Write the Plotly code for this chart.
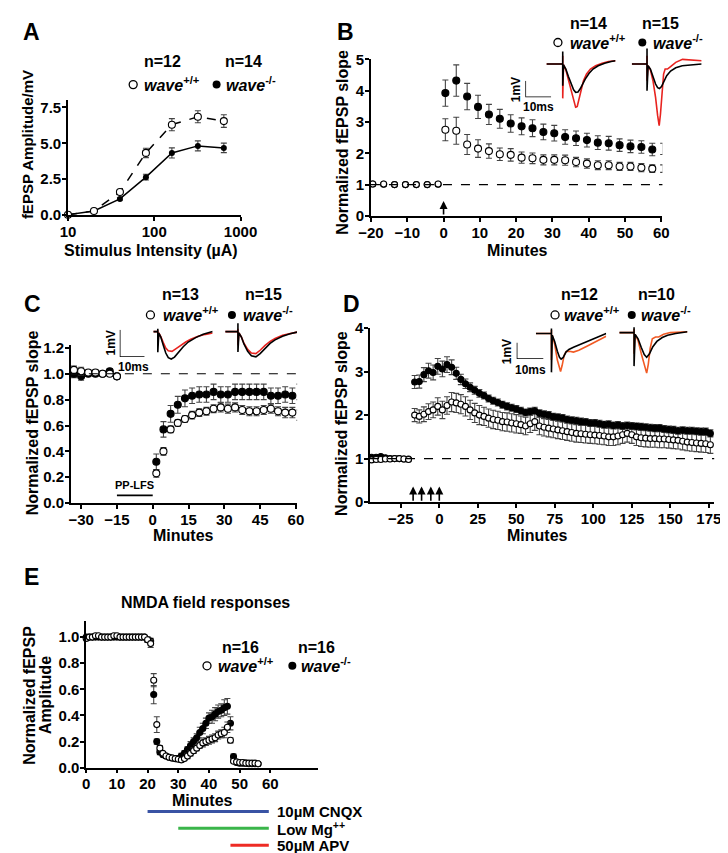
import plotly.graph_objects as go

W, H = 728, 853
FONT = "Liberation Sans, Arial, Helvetica, sans-serif"
ERR = "#444444"
RED_BC = "#e8231f"
RED_D = "#f15a24"

# ---------------- Panel A data ----------------
a_stim = [10, 20, 40, 80, 160, 320, 640]
a_wt = [0.02, 0.28, 1.6, 4.33, 6.3, 6.85, 6.55]
a_wt_err = [0.0, 0.05, 0.1, 0.33, 0.42, 0.42, 0.44]
a_ko = [0.02, 0.28, 1.12, 2.64, 4.33, 4.82, 4.68]
a_ko_err = [0.0, 0.05, 0.08, 0.2, 0.35, 0.35, 0.33]

# ---------------- Panel B data ----------------
b_base_min = [-19.5, -16.5, -13.5, -10.5, -7.5, -4.5, -1.5]
b_wt_base = [1.02, 1.02, 1.0, 1.0, 1.0, 1.0, 1.02]
b_ko_base = [1.02, 1.01, 1.0, 1.0, 1.0, 1.0, 1.01]
b_base_err = [0.02, 0.02, 0.02, 0.02, 0.02, 0.02, 0.02]
b_post_min = [0.5, 3.5, 6.5, 9.5, 12.5, 15.5, 18.5, 21.5, 24.5, 27.5, 30.5,
              33.5, 36.5, 39.5, 42.5, 45.5, 48.5, 51.5, 54.5, 57.5, 60.5]
b_wt_post = [2.75, 2.72, 2.28, 2.15, 2.07, 1.97, 1.95, 1.86, 1.84, 1.79, 1.79,
             1.78, 1.72, 1.67, 1.62, 1.62, 1.58, 1.58, 1.54, 1.51, 1.51]
b_wt_err = [0.35, 0.43, 0.32, 0.28, 0.23, 0.2, 0.2, 0.18, 0.17, 0.16, 0.16,
            0.16, 0.15, 0.15, 0.14, 0.14, 0.13, 0.13, 0.13, 0.12, 0.12]
b_ko_post = [3.92, 4.32, 3.81, 3.48, 3.24, 3.1, 2.95, 2.86, 2.8, 2.68, 2.64,
             2.52, 2.48, 2.42, 2.34, 2.32, 2.26, 2.22, 2.2, 2.12, 2.14]
b_ko_err = [0.42, 0.5, 0.42, 0.37, 0.32, 0.3, 0.28, 0.27, 0.27, 0.25, 0.25,
            0.23, 0.23, 0.22, 0.22, 0.22, 0.2, 0.2, 0.2, 0.2, 0.18]
b_tetanus = [0]

# ---------------- Panel C data ----------------
c_base_min = [-33, -30, -27, -24, -21, -18, -15]
c_wt_base = [1.03, 1.02, 1.01, 1.01, 1.0, 1.0, 0.98]
c_ko_base = [1.0, 0.98, 1.0, 1.0, 1.0, 1.02, 0.98]
c_base_err = [0.03, 0.03, 0.02, 0.02, 0.02, 0.02, 0.02]
c_post_min = [1.5, 4.5, 7.5, 10.5, 13.5, 16.5, 19.5, 22.5, 25.5, 28.5, 31.5,
              34.5, 37.5, 40.5, 43.5, 46.5, 49.5, 52.5, 55.5, 58.5, 61.5]
c_wt_post = [0.23, 0.40, 0.57, 0.62, 0.65, 0.68, 0.70, 0.71, 0.73, 0.74, 0.73,
             0.74, 0.72, 0.71, 0.71, 0.72, 0.73, 0.71, 0.70, 0.70, 0.68]
c_wt_err = [0.03, 0.03, 0.025, 0.025, 0.025, 0.03, 0.03, 0.03, 0.03, 0.035, 0.035,
            0.035, 0.035, 0.035, 0.035, 0.035, 0.035, 0.035, 0.04, 0.04, 0.04]
c_ko_post = [0.32, 0.57, 0.69, 0.76, 0.81, 0.83, 0.84, 0.84, 0.86, 0.84, 0.84,
             0.86, 0.86, 0.86, 0.86, 0.86, 0.83, 0.83, 0.84, 0.83, 0.86]
c_ko_err = [0.06, 0.06, 0.065, 0.065, 0.065, 0.06, 0.06, 0.06, 0.06, 0.06, 0.06,
            0.06, 0.06, 0.06, 0.06, 0.06, 0.06, 0.06, 0.06, 0.06, 0.06]
c_lfs_start, c_lfs_end, c_lfs_level = -15, 0, 0.06

# ---------------- Panel D data ----------------
d_base_min = [-44, -41, -38, -35, -32, -29, -26, -23, -20]
d_wt_base = [0.97, 0.98, 0.98, 0.99, 0.99, 1.0, 1.0, 0.99, 0.98]
d_ko_base = [1.03, 1.03, 1.05, 1.02, 1.0, 1.0, 1.0, 0.99, 0.99]
d_base_err = [0.03, 0.03, 0.03, 0.03, 0.03, 0.03, 0.03, 0.03, 0.03]
d_post_min = [-16, -13, -10, -7, -4, -1, 2, 5, 8, 11, 14, 17, 20, 23, 26, 29,
              32, 35, 38, 41, 44, 47, 50, 53, 56, 59, 62, 65, 68, 71, 74, 77,
              80, 83, 86, 89, 92, 95, 98, 101, 104, 107, 110, 113, 116, 119,
              122, 125, 128, 131, 134, 137, 140, 143, 146, 149, 152, 155, 158,
              161, 164, 167, 170, 173, 176]
d_ko_post = [2.76, 2.77, 2.93, 3.02, 2.98, 3.12, 3.06, 3.16, 3.1, 2.96, 2.82,
             2.72, 2.64, 2.57, 2.5, 2.45, 2.38, 2.33, 2.29, 2.24, 2.2, 2.17,
             2.14, 2.1, 2.06, 2.08, 2.1, 2.04, 2.02, 2.0, 1.96, 1.95, 1.93,
             1.9, 1.88, 1.87, 1.85, 1.84, 1.82, 1.82, 1.8, 1.78, 1.79, 1.76,
             1.77, 1.75, 1.76, 1.75, 1.74, 1.73, 1.72, 1.71, 1.7, 1.7, 1.68,
             1.67, 1.66, 1.64, 1.65, 1.64, 1.64, 1.63, 1.62, 1.62, 1.58]
d_ko_err = [0.15, 0.15, 0.16, 0.17, 0.17, 0.18, 0.18, 0.18, 0.17, 0.14, 0.12,
            0.11, 0.1, 0.09, 0.09, 0.08, 0.08, 0.08, 0.08, 0.08, 0.08, 0.08,
            0.08, 0.08, 0.08, 0.08, 0.08, 0.08, 0.08, 0.08, 0.08, 0.08, 0.08,
            0.08, 0.08, 0.08, 0.08, 0.08, 0.08, 0.08, 0.08, 0.08, 0.08, 0.08,
            0.08, 0.08, 0.08, 0.08, 0.08, 0.08, 0.08, 0.08, 0.08, 0.08, 0.08,
            0.08, 0.08, 0.08, 0.08, 0.08, 0.08, 0.08, 0.08, 0.08, 0.08]
d_wt_post = [2.0, 1.97, 2.02, 2.08, 2.12, 2.2, 2.12, 2.22, 2.3, 2.28, 2.25,
             2.2, 2.12, 2.05, 2.0, 1.97, 1.93, 1.9, 1.88, 1.85, 1.84, 1.82,
             1.8, 1.78, 1.75, 1.8, 1.85, 1.75, 1.72, 1.7, 1.68, 1.66, 1.64,
             1.62, 1.6, 1.58, 1.57, 1.56, 1.55, 1.54, 1.53, 1.52, 1.5, 1.5,
             1.52, 1.55, 1.58, 1.55, 1.5, 1.48, 1.47, 1.46, 1.46, 1.45, 1.45,
             1.44, 1.43, 1.42, 1.4, 1.38, 1.37, 1.36, 1.35, 1.34, 1.32]
d_wt_err = [0.15, 0.15, 0.17, 0.18, 0.18, 0.2, 0.2, 0.2, 0.22, 0.22, 0.22,
            0.22, 0.22, 0.22, 0.22, 0.21, 0.21, 0.21, 0.21, 0.21, 0.21, 0.21,
            0.21, 0.2, 0.2, 0.2, 0.2, 0.2, 0.2, 0.2, 0.2, 0.2, 0.2,
            0.2, 0.2, 0.2, 0.2, 0.2, 0.2, 0.2, 0.2, 0.2, 0.2, 0.2,
            0.2, 0.2, 0.2, 0.2, 0.2, 0.2, 0.2, 0.2, 0.2, 0.2, 0.2,
            0.2, 0.2, 0.2, 0.2, 0.2, 0.2, 0.2, 0.2, 0.2, 0.2]
d_tetanus = [-17, -11.5, -5.5, 0]

# ---------------- Panel E data ----------------
e_min = [0, 1, 2, 3, 4, 5, 6, 7, 8, 9, 10, 11, 12, 13, 14, 15, 16, 17, 18, 19,
         20, 21, 22, 23, 24, 25, 26, 27, 28, 29, 30, 31, 32, 33, 34, 35, 36, 37,
         38, 39, 40, 41, 42, 43, 44, 45, 46, 47, 48, 49, 50, 51, 52, 53, 54, 55, 56]
e_wt = [0.99, 1.0, 1.0, 1.01, 1.01, 1.0, 1.0, 1.0, 1.0, 1.01, 1.01, 1.0, 1.0,
        1.0, 1.0, 1.0, 1.0, 1.0, 1.0, 1.0, 0.98, 0.95, 0.67, 0.33, 0.15, 0.11,
        0.09, 0.08, 0.075, 0.07, 0.065, 0.06, 0.07, 0.09, 0.11, 0.13, 0.15, 0.17,
        0.19, 0.2, 0.21, 0.22, 0.23, 0.25, 0.26, 0.27, 0.31, 0.21, 0.05, 0.045,
        0.04, 0.04, 0.035, 0.035, 0.035, 0.035, 0.03]
e_wt_err = [0.01, 0.01, 0.01, 0.01, 0.01, 0.01, 0.01, 0.01, 0.01, 0.01, 0.01,
            0.01, 0.01, 0.01, 0.01, 0.01, 0.01, 0.01, 0.01, 0.01, 0.02, 0.03,
            0.05, 0.06, 0.02, 0.01, 0.01, 0.01, 0.01, 0.01, 0.01, 0.01, 0.01,
            0.02, 0.02, 0.02, 0.02, 0.02, 0.03, 0.03, 0.03, 0.03, 0.03, 0.03,
            0.03, 0.04, 0.04, 0.02, 0.01, 0.01, 0.01, 0.01, 0.01, 0.01, 0.01,
            0.01, 0.01]
e_ko = [1.0, 1.0, 1.0, 1.0, 1.0, 1.0, 1.0, 1.0, 1.0, 1.0, 1.0, 1.0, 1.0, 1.0,
        1.0, 1.0, 1.0, 1.0, 1.0, 1.0, 0.98, 0.97, 0.56, 0.2, 0.12, 0.1, 0.09,
        0.08, 0.075, 0.07, 0.07, 0.09, 0.11, 0.14, 0.17, 0.2, 0.23, 0.27, 0.3,
        0.34, 0.38, 0.39, 0.41, 0.43, 0.44, 0.46, 0.47, 0.34, 0.085, 0.04,
        0.035, 0.035, 0.035, 0.03, 0.03, 0.03, 0.03]
e_ko_err = [0.01, 0.01, 0.01, 0.01, 0.01, 0.01, 0.01, 0.01, 0.01, 0.01, 0.01,
            0.01, 0.01, 0.01, 0.01, 0.01, 0.01, 0.01, 0.01, 0.01, 0.02, 0.02,
            0.07, 0.02, 0.02, 0.01, 0.01, 0.01, 0.01, 0.01, 0.01, 0.02, 0.02,
            0.02, 0.03, 0.03, 0.03, 0.04, 0.04, 0.04, 0.04, 0.05, 0.05, 0.05,
            0.05, 0.06, 0.06, 0.05, 0.02, 0.01, 0.01, 0.01, 0.01, 0.01, 0.01,
            0.01, 0.01]
e_drugs = ["10µM CNQX", "Low Mg<sup>++</sup>", "50µM APV"]
e_drug_start = [20, 30, 47]
e_drug_end = [59.5, 59.5, 59.5]
e_drug_colors = ["#3953a4", "#3ab54a", "#ee2b24"]

# ---------------- Inset example traces (ms, mV) ----------------
b_wt_black = ([0, 6.3, 6.3, 6.3, 6.6, 7.5, 8.5, 9.5, 10.5, 11.3, 12.2, 13, 14, 15, 16.5, 18, 20, 22.5, 25, 26.7],
              [0, 0, 0.75, -1.3, -0.05, -0.3, -0.75, -1.2, -1.55, -1.7, -1.68, -1.5, -1.2, -0.9, -0.55, -0.3, -0.1, 0.05, 0.15, 0.2])
b_wt_red = ([0, 6.3, 6.3, 6.3, 6.6, 7.5, 8.5, 9.5, 10.5, 11.3, 11.9, 12.6, 13.4, 14.3, 15.5, 17, 19, 21.5, 24, 26.7],
            [0, 0, 0.5, -2.06, -0.05, -0.35, -0.95, -1.6, -2.25, -2.6, -2.55, -2.1, -1.5, -1.0, -0.6, -0.3, -0.1, 0.05, 0.15, 0.2])
b_ko_black = ([0, 5.9, 5.9, 5.9, 6.3, 7.2, 8.2, 9.2, 10, 10.7, 11.5, 12.5, 13.5, 15, 17, 19.5, 23, 27],
              [0, 0, 0.94, -1.6, -0.1, -0.3, -0.75, -1.2, -1.42, -1.47, -1.35, -1.0, -0.7, -0.42, -0.22, -0.1, -0.04, 0.0])
b_ko_red = ([0, 5.9, 5.9, 5.9, 6.3, 7.2, 8.2, 9.2, 10, 10.6, 11.1, 11.7, 12.3, 12.9, 13.8, 15, 17, 19.6, 23, 27],
            [0, 0, 0.5, -1.0, -0.1, -0.35, -1.0, -2.0, -3.1, -3.7, -3.0, -1.6, -0.6, -0.3, -0.3, -0.15, 0.1, 0.28, 0.25, 0.2])
c_wt_black = ([0, 1.8, 1.8, 1.8, 2.2, 3, 4, 5, 6, 7.2, 8.5, 10, 12, 14, 17, 20, 23.8],
              [0, 0, 0.1, -0.75, -0.05, -0.2, -0.5, -0.78, -0.95, -1.0, -0.93, -0.75, -0.55, -0.38, -0.22, -0.1, 0.0])
c_wt_red = ([0, 1.8, 1.8, 1.8, 2.2, 3, 4, 5, 6, 7.5, 9, 11, 13, 15, 18, 21, 23.8],
            [0, 0, 0.05, -0.5, -0.05, -0.18, -0.4, -0.6, -0.7, -0.72, -0.63, -0.5, -0.38, -0.28, -0.17, -0.1, -0.05])
c_ko_black = ([0, 5.1, 5.1, 5.1, 5.5, 6.5, 7.5, 9, 10.5, 12.3, 14, 16, 18, 20, 23, 26, 28.8],
              [0, 0, 0.3, -0.74, -0.05, -0.2, -0.45, -0.72, -0.88, -0.92, -0.8, -0.6, -0.43, -0.3, -0.17, -0.08, -0.02])
c_ko_red = ([0, 5.1, 5.1, 5.1, 5.5, 6.5, 7.5, 9, 10.5, 12.3, 14, 16, 18, 20, 23, 26, 28.8],
            [0, 0, 0.1, -0.5, -0.05, -0.2, -0.42, -0.65, -0.78, -0.8, -0.68, -0.5, -0.36, -0.25, -0.13, -0.06, -0.02])
d_wt_black = ([0, 5.8, 5.8, 5.8, 6.1, 7.0, 8.0, 8.8, 9.4, 10.2, 11.2, 12.3, 14, 16, 18.5, 21, 23.5, 26.2],
              [0, 0, 0.28, -2.2, -0.1, -0.45, -1.0, -1.35, -1.45, -1.35, -1.05, -0.9, -0.78, -0.65, -0.48, -0.32, -0.15, 0.0])
d_wt_red = ([0, 5.8, 5.8, 5.8, 6.1, 7.0, 8.0, 8.8, 9.2, 9.8, 10.5, 11.3, 12.5, 14, 16, 19, 22.5, 26.2],
            [0, 0, 0.2, -1.5, -0.1, -0.6, -1.5, -2.0, -2.15, -1.8, -1.25, -1.02, -1.0, -1.05, -0.95, -0.72, -0.42, -0.15])
d_ko_black = ([0, 5.5, 5.5, 5.5, 5.9, 7, 8.2, 9.3, 10.2, 11.2, 12.5, 14, 16, 18, 21, 25.4],
              [0, 0, 0.3, -1.9, -0.1, -0.35, -0.85, -1.25, -1.4, -1.22, -0.8, -0.5, -0.28, -0.15, -0.05, 0.05])
d_ko_red = ([0, 5.5, 5.5, 5.5, 5.9, 7, 8.2, 9.3, 10.2, 10.8, 11.5, 12.3, 13.5, 14.7, 16.5, 19, 25.4],
            [0, 0, 0.2, -1.2, -0.1, -0.45, -1.2, -1.9, -2.3, -1.8, -0.9, -0.35, -0.25, -0.25, -0.1, 0.0, 0.05])
scale_ms, scale_mv = 10, 1

# ======================================================================
fig = go.Figure()
layout = dict(width=W, height=H, margin=dict(l=0, r=0, t=0, b=0),
              paper_bgcolor="white", plot_bgcolor="rgba(0,0,0,0)",
              showlegend=False, font=dict(family=FONT, color="black"))
annotations, shapes = [], []
count = [0]
key_open, key_filled = ([], []), ([], [])


def fx(px):
    return px / W


def fy(py):
    return 1 - py / H


def new_axes(xpx, ypx, xopts, yopts):
    count[0] += 1
    s = "" if count[0] == 1 else str(count[0])
    xa = dict(domain=[fx(xpx[0]), fx(xpx[1])], anchor="y" + s)
    ya = dict(domain=[fy(ypx[1]), fy(ypx[0])], anchor="x" + s)
    xa.update(xopts)
    ya.update(yopts)
    layout["xaxis" + s] = xa
    layout["yaxis" + s] = ya
    return "x" + s, "y" + s


def main_axis(**kw):
    d = dict(showline=True, linecolor="black", linewidth=1.5, ticks="outside",
             ticklen=4, tickwidth=1.5, tickcolor="black", showgrid=False,
             zeroline=False, fixedrange=True, ticklabelstandoff=-2,
             tickfont=dict(family=FONT, size=15, color="black", weight="bold"))
    d.update(kw)
    return d


HID = dict(visible=False, fixedrange=True)


def text(px, py, s, size=16, xanchor="center", yanchor="middle", angle=0):
    annotations.append(dict(x=fx(px), y=fy(py), xref="paper", yref="paper",
                            text=s, showarrow=False, xanchor=xanchor,
                            yanchor=yanchor, textangle=angle,
                            font=dict(family=FONT, size=size, color="black",
                                      weight="bold")))


def points(xa, ya, x, y, err, filled, size, capw=3):
    fig.add_trace(go.Scatter(
        x=x, y=y, xaxis=xa, yaxis=ya, mode="markers", cliponaxis=False,
        marker=dict(symbol="circle", size=size,
                    color="black" if filled else "white",
                    line=dict(color="black", width=1.1)),
        error_y=dict(type="data", array=err, visible=True, color=ERR,
                     thickness=1.1, width=capw)))


def legend(n1, n2, n1x, n2x, ny, s1x, t1x, s2x, t2x, wy, size=16):
    text(n1x, ny, "n=%d" % n1, size=size)
    text(n2x, ny, "n=%d" % n2, size=size)
    key_open[0].append(s1x)
    key_open[1].append(wy + 1)
    key_filled[0].append(s2x)
    key_filled[1].append(wy + 1)
    text(t1x, wy, "<i>wave</i><sup>+/+</sup>", size=size, xanchor="left")
    text(t2x, wy, "<i>wave</i><sup>-/-</sup>", size=size, xanchor="left")


def dashed_one(xa, ya):
    shapes.append(dict(type="line", xref=xa + " domain", yref=ya, x0=0, x1=1,
                       y0=1, y1=1, line=dict(color="black", width=1.2, dash="dash")))


def inset(left, base, pxms, pxmv, black, red, redcol):
    t_end = max(black[0] + red[0])
    vmin = min(black[1] + red[1]) - 0.05
    vmax = max(black[1] + red[1]) + 0.05
    xa, ya = new_axes([left, left + t_end * pxms],
                      [base - vmax * pxmv, base - vmin * pxmv],
                      dict(HID, range=[0, t_end]), dict(HID, range=[vmin, vmax]))
    fig.add_trace(go.Scatter(x=red[0], y=red[1], xaxis=xa, yaxis=ya, mode="lines",
                             line=dict(color=redcol, width=1.6), cliponaxis=False))
    fig.add_trace(go.Scatter(x=black[0], y=black[1], xaxis=xa, yaxis=ya, mode="lines",
                             line=dict(color="black", width=1.6), cliponaxis=False))


def scalebar(x0, yb, pxms, pxmv):
    xa, ya = new_axes([x0, x0 + scale_ms * pxms], [yb - scale_mv * pxmv, yb],
                      dict(HID, range=[0, scale_ms]), dict(HID, range=[0, scale_mv]))
    fig.add_trace(go.Scatter(x=[0, 0, scale_ms], y=[scale_mv, 0, 0], xaxis=xa, yaxis=ya,
                             mode="lines", line=dict(color="black", width=1.5),
                             cliponaxis=False))


# ---------------- Panel A ----------------
xa, ya = new_axes([49, 229], [85, 202],
                  main_axis(type="log", range=[1, 3], tickvals=[10, 100, 1000],
                            ticktext=["10", "100", "1000"]),
                  main_axis(range=[0, 8], tickvals=[0, 2.5, 5, 7.5], tickformat=".1f"))
fig.add_trace(go.Scatter(x=a_stim, y=a_ko, xaxis=xa, yaxis=ya, mode="lines+markers",
                         cliponaxis=False, line=dict(color="black", width=1.5),
                         marker=dict(size=6, color="black"),
                         error_y=dict(type="data", array=a_ko_err, color=ERR,
                                      thickness=1.1, width=3)))
fig.add_trace(go.Scatter(x=a_stim, y=a_wt, xaxis=xa, yaxis=ya, mode="lines+markers",
                         cliponaxis=False, line=dict(color="black", width=1.5, dash="dash"),
                         marker=dict(size=7, color="white", line=dict(color="black", width=1.1)),
                         error_y=dict(type="data", array=a_wt_err, color=ERR,
                                      thickness=1.1, width=3)))
text(11, 15, "A", size=23)
text(7, 130, "fEPSP Amplitude/mV", size=15, angle=-90)
text(136, 238, "Stimulus Intensity (µA)", size=16)
legend(12, 14, 148, 232, 45, 117, 126, 204, 212, 68)

# ---------------- Panel B ----------------
xa, ya = new_axes([365, 669], [42.5, 203],
                  main_axis(range=[-20, 60.3], tickvals=[-20, -10, 0, 10, 20, 30, 40, 50, 60]),
                  main_axis(range=[0, 5.02], tickvals=[0, 1, 2, 3, 4, 5]))
dashed_one(xa, ya)
points(xa, ya, b_base_min, b_ko_base, b_base_err, True, 6)
points(xa, ya, b_base_min, b_wt_base, b_base_err, False, 6)
points(xa, ya, b_post_min, b_ko_post, b_ko_err, True, 7)
points(xa, ya, b_post_min, b_wt_post, b_wt_err, False, 7)
for t in b_tetanus:
    annotations.append(dict(x=t, y=0.48, ax=t, ay=0, xref=xa, yref=ya, axref=xa,
                            ayref=ya, text="", showarrow=True, arrowhead=2,
                            arrowsize=1, arrowwidth=1.6, arrowcolor="black"))
text(338, 15, "B", size=23)
text(335, 128, "Normalized fEPSP slope", size=16, angle=-90)
text(518, 238, "Minutes", size=16)
legend(14, 15, 592, 667, 7, 560, 571, 648, 657, 25)
inset(548, 48, 2.7, 17, b_wt_black, b_wt_red, RED_BC)
inset(637, 48, 2.7, 17, b_ko_black, b_ko_red, RED_BC)
scalebar(526, 82, 2.7, 17)
text(516, 74, "1mV", size=12, angle=-90)
text(540, 92, "10ms", size=12)

# ---------------- Panel C ----------------
xa, ya = new_axes([52, 288], [335, 496],
                  main_axis(range=[-34.3, 60.5], tickvals=[-30, -15, 0, 15, 30, 45, 60]),
                  main_axis(range=[0, 1.22], tickvals=[0, 0.2, 0.4, 0.6, 0.8, 1.0, 1.2],
                            tickformat=".1f"))
dashed_one(xa, ya)
shapes.append(dict(type="line", xref=xa, yref=ya, x0=c_lfs_start, x1=c_lfs_end,
                   y0=c_lfs_level, y1=c_lfs_level, line=dict(color="black", width=1.6)))
annotations.append(dict(x=(c_lfs_start + c_lfs_end) / 2, y=c_lfs_level + 0.015,
                        xref=xa, yref=ya, text="PP-LFS", showarrow=False,
                        yanchor="bottom", font=dict(family=FONT, size=11,
                                                    color="black", weight="bold")))
points(xa, ya, c_base_min, c_ko_base, c_base_err, True, 7)
points(xa, ya, c_base_min, c_wt_base, c_base_err, False, 7)
points(xa, ya, c_post_min, c_ko_post, c_ko_err, True, 7)
points(xa, ya, c_post_min, c_wt_post, c_wt_err, False, 7)
text(12, 293, "C", size=23)
text(12, 414, "Normalized fEPSP slope", size=16, angle=-90)
text(169, 529, "Minutes", size=16)
legend(13, 15, 166, 253, 283, 135, 146, 220, 229, 303)
inset(138, 321, 2.6, 28, c_wt_black, c_wt_red, RED_BC)
inset(213, 321, 2.6, 28, c_ko_black, c_ko_red, RED_BC)
scalebar(103, 347, 2.6, 28)
text(94, 333, "1mV", size=12, angle=-90)
text(117, 357, "10ms", size=12)

# ---------------- Panel D ----------------
xa, ya = new_axes([364, 723], [317.4, 495],
                  main_axis(range=[-45, 178.5], tickvals=[-25, 0, 25, 50, 75, 100, 125, 150, 175]),
                  main_axis(range=[0, 4], tickvals=[0, 1, 2, 3, 4]))
dashed_one(xa, ya)
points(xa, ya, d_base_min, d_ko_base, d_base_err, True, 6, 3)
points(xa, ya, d_base_min, d_wt_base, d_base_err, False, 6, 3)
points(xa, ya, d_post_min, d_wt_post, d_wt_err, False, 6, 3)
points(xa, ya, d_post_min, d_ko_post, d_ko_err, True, 6, 3)
for t in d_tetanus:
    annotations.append(dict(x=t, y=0.36, ax=t, ay=0, xref=xa, yref=ya, axref=xa,
                            ayref=ya, text="", showarrow=True, arrowhead=2,
                            arrowsize=1, arrowwidth=1.6, arrowcolor="black"))
text(345, 293, "D", size=23)
text(335, 415, "Normalized fEPSP slope", size=16, angle=-90)
text(539, 529, "Minutes", size=16)
legend(12, 10, 582, 663, 283, 557, 564, 637, 645, 303)
inset(537, 323, 2.8, 18, d_wt_black, d_wt_red, RED_D)
inset(624, 322, 2.8, 18, d_ko_black, d_ko_red, RED_D)
scalebar(517, 349, 2.8, 17)
text(507, 342, "1mV", size=12, angle=-90)
text(531, 360, "10ms", size=12)

# ---------------- Panel E ----------------
xa, ya = new_axes([68, 310], [616.7, 766],
                  main_axis(range=[0, 75.6], tickvals=[0, 10, 20, 30, 40, 50, 60]),
                  main_axis(range=[0, 1.12], tickvals=[0, 0.2, 0.4, 0.6, 0.8, 1.0],
                            tickformat=".1f"))
points(xa, ya, e_min, e_ko, e_ko_err, True, 6, 3)
points(xa, ya, e_min, e_wt, e_wt_err, False, 6, 3)
drug_rows = [810.7, 827.7, 845]
for name, t0, t1, col, row in zip(e_drugs, e_drug_start, e_drug_end, e_drug_colors, drug_rows):
    shapes.append(dict(type="line", xref=xa, yref="paper", x0=t0, x1=t1,
                       y0=fy(row), y1=fy(row), line=dict(color=col, width=3)))
    text(265, row, name, size=15, xanchor="left")
text(11, 571, "E", size=23)
text(192, 597, "NMDA field responses", size=16)
text(9, 692, "Normalized fEPSP", size=16, angle=-90)
text(25, 692, "Amplitude", size=16, angle=-90)
text(189, 799, "Minutes", size=16)
legend(16, 16, 229, 308, 643, 194, 203, 283, 290, 661)

# ---------------- legend keys (genotype symbols) on a page-sized overlay ----------------
xo, yo = new_axes([0, W], [0, H], dict(HID, range=[0, W]), dict(HID, range=[H, 0]))
fig.add_trace(go.Scatter(x=key_open[0], y=key_open[1], xaxis=xo, yaxis=yo, mode="markers",
                         marker=dict(symbol="circle", size=8, color="white",
                                     line=dict(color="black", width=1.3)), cliponaxis=False))
fig.add_trace(go.Scatter(x=key_filled[0], y=key_filled[1], xaxis=xo, yaxis=yo, mode="markers",
                         marker=dict(symbol="circle", size=8, color="black"), cliponaxis=False))

layout["annotations"] = annotations
layout["shapes"] = shapes
fig.update_layout(**layout)
fig.write_html("out.html")
